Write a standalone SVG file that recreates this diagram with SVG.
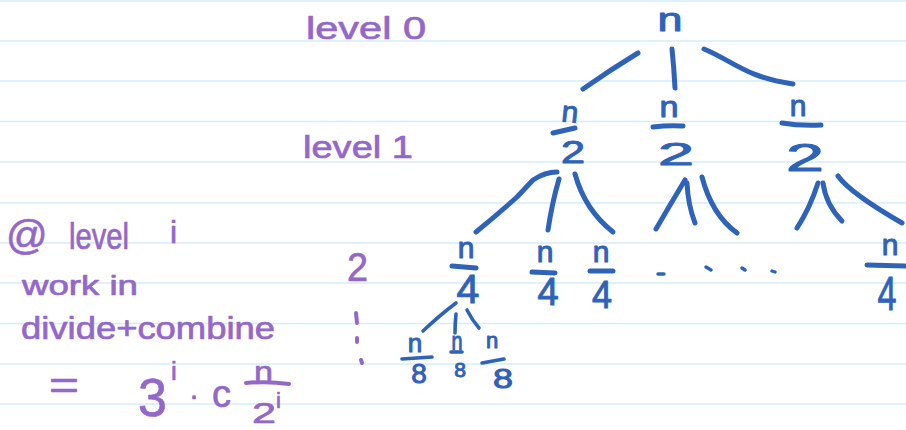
<svg xmlns="http://www.w3.org/2000/svg" width="906" height="430" viewBox="0 0 906 430">
<style>
text{font-family:"Liberation Sans",Arial,sans-serif}
.rule{stroke:#d3edfb;stroke-width:1.6;fill:none}
.b{fill:#2e63b9;stroke:#2e63b9;stroke-width:1;stroke-linejoin:round;text-anchor:middle}
.p{fill:#9468c9;stroke:#9468c9;stroke-width:.7;stroke-linejoin:round}
.ln{fill:none;stroke:#2e63b9;stroke-width:5;stroke-linecap:round;stroke-linejoin:round}
.thin{stroke-width:3.6}
.dot{stroke-width:3.4}
.pl{fill:none;stroke:#9468c9;stroke-width:4;stroke-linecap:round}
.n{font-size:30px}.four{font-size:41px}.two{font-size:32px}.e{font-size:28px}.sn{font-size:26px}
</style>
<rect width="906" height="430" fill="#fff"/>
<g id="rules">
<path class="rule" d="M0 1H906M0 41H906M0 81H906M0 121.500H906M0 162H906M0 203H906M0 243H906M0 283H906M0 323.500H906M0 364H906M0 404H906"/>
</g>
<g id="connectors">
<path class="ln" d="M638 53Q610 70 583 89"/>
<path class="ln" d="M672 49Q674 68 675 88"/>
<path class="ln" d="M704 49C733 61 745 77 793 84"/>
<path class="ln" d="M557 172Q545 172 533 180L517 197Q497 215 476 232"/>
<path class="ln" d="M559 179Q552 203 548 230"/>
<path class="ln" d="M575 174Q585 210 613 232"/>
<path class="ln" d="M685 180Q670 205 656 229"/>
<path class="ln" d="M687 183Q688 205 695 223"/>
<path class="ln" d="M702 177Q712 215 737 233"/>
<path class="ln" d="M818 183Q810 208 797 228"/>
<path class="ln" d="M823 183Q826 205 842 221"/>
<path class="ln" d="M838 176Q850 193 902 223"/>
<path class="ln thin" d="M423 331Q440 315 456 303"/>
<path class="ln thin" d="M456 314Q455 324 455 333"/>
<path class="ln thin" d="M467 310Q472 320 479 328"/>
</g>
<g id="node-root"><text class="b" font-size="33" x="670" y="31" textLength="25" lengthAdjust="spacingAndGlyphs">n</text></g>
<g id="node-l1-a"><text class="b n" x="569" y="122" transform="rotate(6 569 122)">n</text><path class="ln" d="M553 133L575 128"/><text class="b two" x="573" y="163" textLength="24" lengthAdjust="spacingAndGlyphs">2</text></g>
<g id="node-l1-b"><text class="b n" x="669" y="117" textLength="19" lengthAdjust="spacingAndGlyphs">n</text><path class="ln" d="M653 127Q668 125 683 126"/><text class="b two" x="676" y="165" textLength="36" lengthAdjust="spacingAndGlyphs">2</text></g>
<g id="node-l1-c"><text class="b n" x="798" y="116">n</text><path class="ln" d="M782 123Q800 126 821 125"/><text class="b" font-size="39" x="805" y="171" textLength="38" lengthAdjust="spacingAndGlyphs">2</text></g>
<g id="node-l2-a"><text class="b n" x="466" y="258">n</text><path class="ln" d="M452 266L476 268"/><text class="b four" x="468" y="303">4</text></g>
<g id="node-l2-b"><text class="b n" x="545" y="262">n</text><path class="ln" d="M532 272L555 273"/><text class="b" font-size="38" x="548" y="305">4</text></g>
<g id="node-l2-c"><text class="b n" x="601" y="262">n</text><path class="ln" d="M590 271H613"/><text class="b" font-size="39" x="602" y="308" textLength="20" lengthAdjust="spacingAndGlyphs">4</text></g>
<g id="node-l2-d"><text class="b n" x="890" y="255">n</text><path class="ln" d="M867 265L905 266"/><text class="b" font-size="48" x="887" y="310" textLength="19" lengthAdjust="spacingAndGlyphs">4</text></g>
<g id="node-l3-a"><text class="b sn" x="415" y="352">n</text><path class="ln thin" d="M402 359L432 357"/><text class="b e" x="419" y="383">8</text></g>
<g id="node-l3-b"><text class="b sn" x="457" y="350" textLength="11" lengthAdjust="spacingAndGlyphs">n</text><path class="ln thin" d="M451 352H462"/><text class="b" font-size="21" x="460" y="377">8</text></g>
<g id="node-l3-c"><text class="b" font-size="22" x="492" y="348">n</text><path class="ln thin" d="M482 363L504 359"/><text class="b e" x="503" y="388" textLength="20" lengthAdjust="spacingAndGlyphs">8</text></g>
<g id="dots"><path class="ln dot" d="M658 274H664M706 267L711 270M742 268L745 270M772 271L775 272"/></g>
<g id="labels">
<text class="p" x="306" y="39" font-size="31" textLength="120" lengthAdjust="spacingAndGlyphs">level 0</text>
<text class="p" x="303" y="158" font-size="31" textLength="110" lengthAdjust="spacingAndGlyphs">level 1</text>
<text class="p" x="6" y="249" font-size="41">@</text>
<text class="p" x="69" y="249" font-size="36" textLength="60" lengthAdjust="spacingAndGlyphs">level</text>
<text class="p" x="170" y="243" font-size="32">i</text>
<text class="p" x="22" y="295" font-size="27" textLength="116" lengthAdjust="spacingAndGlyphs">work in</text>
<text class="p" x="21" y="339" font-size="32" textLength="254" lengthAdjust="spacingAndGlyphs">divide+combine</text>
<text class="p" x="49" y="399" font-size="40" textLength="30" lengthAdjust="spacingAndGlyphs">=</text>
<text class="p" x="138" y="416" font-size="54" textLength="29" lengthAdjust="spacingAndGlyphs">3</text>
<text class="p" x="171" y="380" font-size="26">i</text>
<text class="p" x="189" y="405" font-size="30">·</text>
<text class="p" x="212" y="407" font-size="38">c</text>
<text class="p" x="254" y="382" font-size="30" textLength="19" lengthAdjust="spacingAndGlyphs">n</text>
<path class="pl" d="M246 383Q268 381 289 384"/>
<text class="p" x="252" y="423" font-size="29" textLength="24" lengthAdjust="spacingAndGlyphs">2</text>
<text class="p" x="276" y="408" font-size="22">i</text>
<text class="p" x="347" y="281" font-size="40" textLength="21" lengthAdjust="spacingAndGlyphs">2</text>
<path class="pl" d="M356 313L357 323M357 338V342M361 360L362 363"/>
</g>
</svg>
